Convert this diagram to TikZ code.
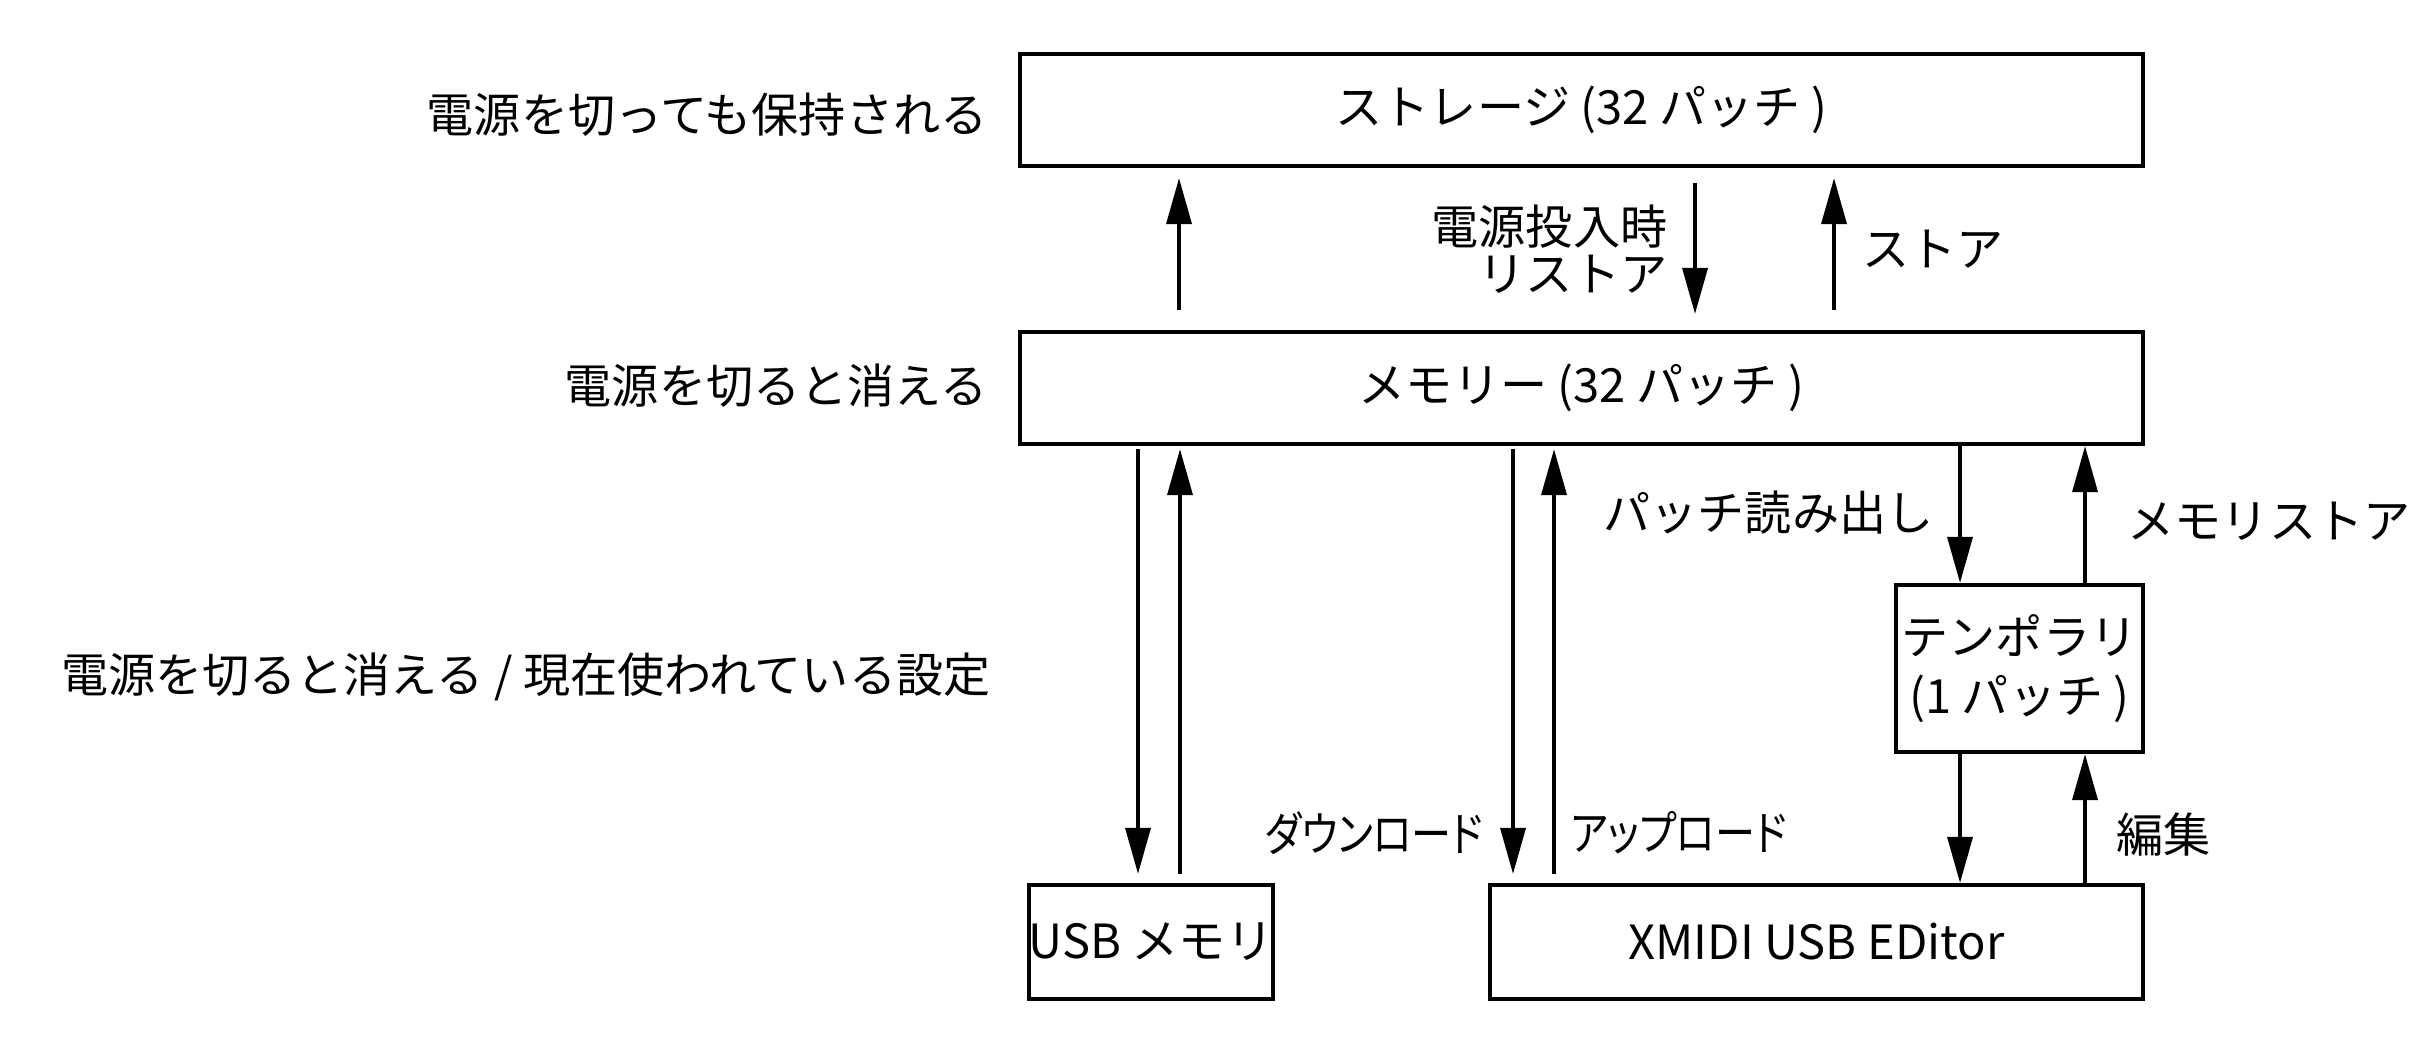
\documentclass[tikz,border=0pt]{standalone}
\usepackage{fontspec}
\setmainfont{Noto Sans CJK JP}
\newfontfamily\propfont[RawFeature=+palt,FakeStretch=0.85]{Noto Sans CJK JP}
\usetikzlibrary{arrows.meta,calc}
\tikzset{
  box/.style={
      draw,
      line width=1.2pt,
      inner sep=0pt,
      text centered,
  },
  lbl/.style={
      inner sep=0pt,
  },
  flow/.style={
      line width=1pt,
      -{Triangle[length=0.46cm,width=0.25cm]},
  }
}
\begin{document}
\begin{tikzpicture}[font=\fontsize{13.4pt}{13.4pt}\selectfont]
	\useasboundingbox (0,0) rectangle (24.29,-10.56);
	\node[box,minimum width=11.23cm,minimum height=1.12cm] (sto) at (15.815,-1.10) {ストレージ (32 パッチ )};
	\node[box,minimum width=11.23cm,minimum height=1.12cm] (mem) at (15.815,-3.88) {メモリー (32 パッチ )};
	\node[box,minimum width=2.47cm,minimum height=1.67cm,align=center,
		font=\fontsize{13.4pt}{17pt}\selectfont] (tmp) at (20.195,-6.685) {テンポラリ\\(1 パッチ )};
	\node[box,minimum width=2.38cm,minimum height=1.14cm] (usb) at (11.51,-9.42) {USB メモリ};
	\node[box,minimum width=6.53cm,minimum height=1.14cm] (xmd) at (18.165,-9.42) {XMIDI USB EDitor};

	\node[lbl,anchor=east] (keep) at (9.88,-1.15) {電源を切っても保持される};
	\node[lbl,anchor=east] (lost) at (9.88,-3.86) {電源を切ると消える};
	\node[lbl,anchor=east] (cur) at (9.91,-6.77) {電源を切ると消える / 現在使われている設定};

	\draw[flow,shorten <=0.2cm,shorten >=0.1cm] ($(mem.north)+(-4.025,0)$) -- ($(sto.south)+(-4.025,0)$);
	\draw[flow,shorten <=0.15cm,shorten >=0.16cm] ($(sto.south)+(1.135,0)$) -- ($(mem.north)+(1.135,0)$)
		node[lbl,pos=0.5,left=0.26cm,align=right] (rst) {電源投入時\\リストア};
	\draw[flow,shorten <=0.2cm,shorten >=0.1cm] ($(mem.north)+(2.525,0)$) -- ($(sto.south)+(2.525,0)$)
		node[lbl,pos=0.5,right=0.27cm] (sta) {ストア};

	\draw[flow,shorten <=0.03cm,shorten >=0.09cm] ($(usb.north |- mem.south)+(-0.13,0)$) -- ($(usb.north)+(-0.13,0)$);
	\draw[flow,shorten <=0.09cm,shorten >=0.03cm] ($(usb.north)+(0.29,0)$) -- ($(usb.north |- mem.south)+(0.29,0)$);

	\draw[flow,shorten <=0.03cm,shorten >=0.09cm] ($(xmd.north |- mem.south)+(-3.035,0)$) -- ($(xmd.north)+(-3.035,0)$);
	\draw[flow,shorten <=0.09cm,shorten >=0.03cm] ($(xmd.north)+(-2.625,0)$) -- ($(xmd.north |- mem.south)+(-2.625,0)$);
	\node[lbl,anchor=east] (dl) at (14.84,-8.33) {\propfont ダウンロード};
	\node[lbl,anchor=west] (ul) at (15.70,-8.33) {\propfont アップロード};

	\draw[flow] ($(tmp.north |- mem.south)+(-0.595,0)$) -- ($(tmp.north)+(-0.595,0)$);
	\draw[flow] ($(tmp.north)+(0.655,0)$) -- ($(tmp.north |- mem.south)+(0.655,0)$);
	\node[lbl,anchor=east] (rd) at (19.34,-5.13) {パッチ読み出し};
	\node[lbl,anchor=west] (ms) at (21.27,-5.21) {メモリストア};

	\draw[flow] ($(tmp.south)+(-0.595,0)$) -- ($(xmd.north -| tmp.south)+(-0.595,0)$);
	\draw[flow] ($(xmd.north -| tmp.south)+(0.655,0)$) -- ($(tmp.south)+(0.655,0)$);
	\node[lbl,anchor=west] (ed) at (21.16,-8.35) {編集};
\end{tikzpicture}
\end{document}
